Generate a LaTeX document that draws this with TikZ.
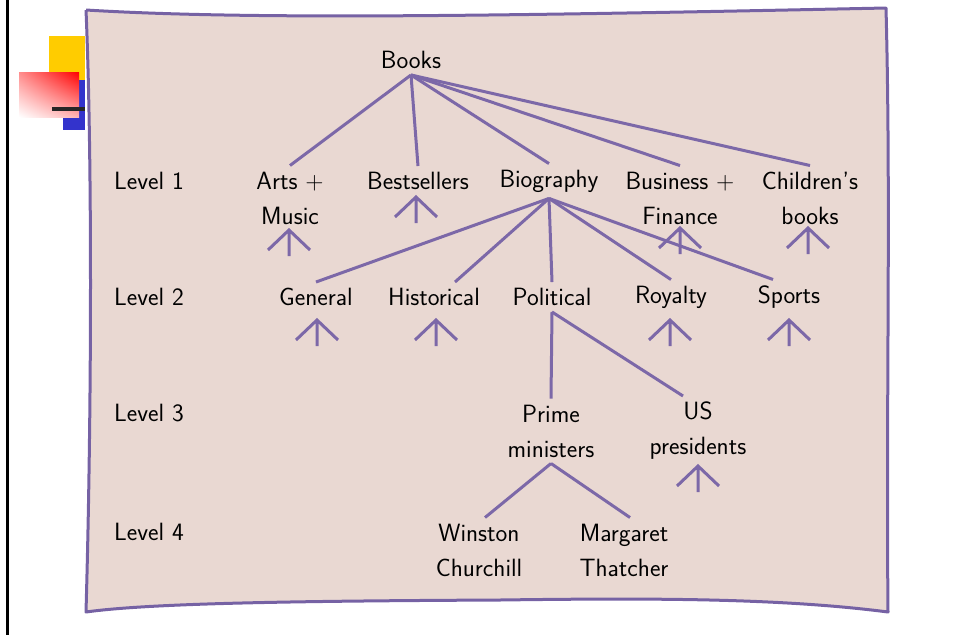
\documentclass[tikz,border=0pt]{standalone}
\usetikzlibrary{shadings}

\definecolor{panel}{RGB}{233,216,210}
\definecolor{plum}{RGB}{124,104,168}
\definecolor{edge}{RGB}{118,98,164}
\definecolor{sunny}{RGB}{255,204,0}
\definecolor{deepblue}{RGB}{51,51,204}

\tikzset{
  branch/.style={plum, line width=3pt},
  cat/.style={font=\sffamily\fontsize{25}{35}\selectfont, align=center, inner xsep=3pt, inner ysep=6pt},
  lvl/.style={cat, anchor=west},
  more/.pic={\draw[branch] (-21,20) -- (0,0) -- (21,20) (0,0) -- (0,26);}
}

\begin{document}
\begin{tikzpicture}[x=1pt,y=-1pt]
    \useasboundingbox (0,0) rectangle (953,635);
    % slide furniture on the left
    \fill[black] (5.5,0) rectangle (8.5,635);
    \fill[sunny] (49,36) rectangle (85,80);
    \fill[deepblue] (63,80) rectangle (85,130);
    \shade[upper left=red!45, upper right=red, lower left=white, lower right=red!30] (19,72) rectangle (79,117);
    \fill[black!85] (52,107) rectangle (85,111);
    % the sheet
    \filldraw[fill=panel, draw=edge, line width=3pt, line join=round]
        (86,10) .. controls (250,20) and (500,16) .. (886,8)
        .. controls (891,200) and (886,400) .. (888,612)
        .. controls (780,598) and (650,598) .. (500,600)
        .. controls (300,601) and (150,603) .. (86,612)
        .. controls (92,400) and (92,150) .. (86,10);

    \node[lvl] (lvl1) at (111,181) {Level 1};
    \node[lvl] (lvl2) at (111,297) {Level 2};
    \node[lvl] (lvl3) at (111,413) {Level 3};
    \node[lvl] (lvl4) at (111,532) {Level 4};

    \node[cat] (books) at (411,60) {Books};
    \node[cat] (arts) at (290,198) {Arts +\\Music};
    \node[cat] (best) at (418,181) {Bestsellers};
    \node[cat] (bio) at (549,181) {Biography};
    \node[cat] (biz) at (680,198) {Business +\\Finance};
    \node[cat] (kids) at (810,198) {Children’s\\books};

    \node[cat] (gen) at (316,297) {General};
    \node[cat] (hist) at (434,297) {Historical};
    \node[cat] (pol) at (552,297) {Political};
    \node[cat] (roy) at (671,297) {Royalty};
    \node[cat] (sport) at (789,297) {Sports};

    \node[cat] (pm) at (551,431) {Prime\\ministers};
    \node[cat] (usp) at (698,431) {US\\presidents};

    \node[cat] (wc) at (479,550) {Winston\\Churchill};
    \node[cat] (mt) at (624,550) {Margaret\\Thatcher};

    \foreach \n in {arts,best,bio,biz,kids}
        \draw[branch] (books.south) -- (\n.north);
    \draw[branch] (bio.south) -- (gen.north);
    \draw[branch] (bio.south) -- ([xshift=21pt]hist.north);
    \draw[branch] (bio.south) -- (pol.north);
    \draw[branch] (bio.south) -- (roy.north);
    \draw[branch] (bio.south) -- ([xshift=-16pt]sport.north);
    \draw[branch] (pol.south) -- (pm.north);
    \draw[branch] (pol.south) -- ([xshift=-15pt]usp.north);
    \draw[branch] (pm.south) -- ([xshift=6pt]wc.north);
    \draw[branch] (pm.south) -- ([xshift=6pt]mt.north);

    % more below
    \foreach \x/\y in {289/230,416/197,680/228,808/228,317/320,436/320,670/320,789/320,698/466}
        \pic at (\x,\y) {more};
\end{tikzpicture}
\end{document}
